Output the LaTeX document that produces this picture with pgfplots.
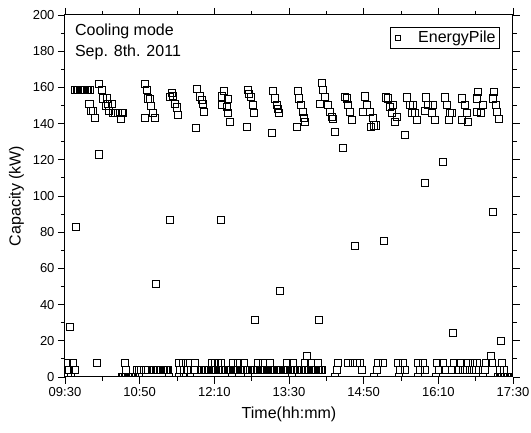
\documentclass[border=0pt]{standalone}
\usepackage{fontspec}
\setmainfont{Liberation Sans}
\usepackage{pgfplots}
\pgfplotsset{compat=1.18}
\begin{document}
\begin{tikzpicture}
\useasboundingbox (-65pt,-56pt) rectangle (466pt,377pt);
\begin{axis}[
 scale only axis, width=448pt, height=362pt,
 xmin=0, xmax=480, ymin=0, ymax=200,
 xtick={0,80,160,240,320,400,480},
 xticklabels={09:30,10:50,12:10,13:30,14:50,16:10,17:30},
 minor xtick={40,120,200,280,360,440},
 ytick={0,20,40,60,80,100,120,140,160,180,200},
 minor ytick={10,30,50,70,90,110,130,150,170,190},
 tick align=outside, major tick length=7pt, minor tick length=4pt,
 tick style={black, line width=0.8pt},
 axis line style={line width=1pt},
 ticklabel style={font=\fontsize{13}{15}\selectfont},
 /pgf/number format/assume math mode=true,
 xlabel={Time(hh:mm)}, ylabel={Capacity (kW)},
 label style={font=\fontsize{16}{19}\selectfont},
 xlabel style={yshift=-3pt},
 ylabel style={yshift=2pt},
 clip marker paths=true,
 legend style={at={(0.971,0.967)}, anchor=north east, draw=black, line width=0.8pt,
   font=\fontsize{16}{19}\selectfont, inner sep=2pt},
 legend image code/.code={\draw[line width=0.7pt, draw=black] (3pt,-2.5pt) rectangle (8pt,2.5pt); \path[draw=none] (0pt,0pt) -- (24pt,0pt);},
 legend cell align=left,
]
\addplot[only marks, mark=square, mark size=3.6pt, mark options={line width=0.7pt, draw=black}] coordinates {
(11,158.5) (12.5,158.5) (14,158.5) (15.5,158.5) (17,158.5) (18.5,158.5) (20,158.5)
(21.5,158.5) (23,158.5) (24.5,158.5) (26,158.5)
(26,151) (28,147) (30,147) (32,143) (36.4,162) (39.6,158.5) (40.7,154) (44,150) (45,154)
(46,151) (47,147) (50.4,151) (51.4,146) (53.6,146) (56.8,146) (60,142.5) (61,146) (62.1,146)
(85.7,162) (87.9,158.5) (88.9,154) (91,153.5) (92.1,150) (94.3,146) (96.4,143) (85.7,143)
(112.5,154.8) (114.6,157) (115.7,155.5) (117.9,151) (120,149) (121.1,145)
(140.4,137.7) (141.4,159) (144.6,155) (146.8,153) (147.9,151) (148.9,146.4)
(168.2,155) (168.2,150.3) (170.4,158) (173.6,149.3) (174.6,153.6) (174.6,145.8) (176.8,141)
(195,138) (196.1,158.6) (197.1,156.5) (199.3,154.7) (201.4,150.3) (202.5,146)
(221.8,134.8) (222.9,158) (225,154) (227.1,150.3) (228.2,148) (229.3,146)
(248.6,138.3) (249.6,158) (250.7,154) (252.9,150.3) (255,146.6) (256,143) (257.1,141)
(273.2,150.8) (275.4,162.6) (276.4,158.6) (278.6,154.9) (281.8,150.3) (283.9,146.6)
(286.1,143.8) (287.1,142.5) (289.3,135.5) (297.9,126.5)
(300,154.9) (302,154) (303.2,150.3) (305.4,146.6) (307.5,142)
(319.3,146.6) (321.4,155) (323.6,150.3) (326.8,146.6) (327.9,138.3) (330,143) (331.1,139) (333.2,139)
(343.9,154.5) (346.1,154) (348.2,149.3) (350.4,146) (351.4,150.3) (353.6,141) (355.7,143.8)
(364.3,134) (366.4,154.5) (369.6,150.3) (371.8,146) (372.9,150.3) (375,146) (377.1,142)
(385.7,147) (386.8,154.5) (388.9,150.3) (393.2,146) (394.3,150.3) (396.4,142)
(407.1,154.5) (409.3,150.3) (411.4,142) (412.5,146) (414.6,146)
(425.4,154) (425.4,142) (428.6,150.3) (430.7,146) (431.8,141)
(441.4,154) (441.4,146.6) (442.5,157.6) (445.7,145.8) (447.9,150.3)
(458.6,154) (459.6,157.6) (461.8,150.3) (462.9,146.6) (465,142.5)
(5.4,27.6) (11.5,83) (36.4,123) (97.5,51.5) (112.5,87) (167.1,87) (203.6,31.5) (230.4,47.5)
(259.3,11.8) (272.1,31.5) (310.7,72.4) (341.8,75) (385.7,107.3) (405,119) (415.7,24.3)
(456.4,11.8) (458.6,91.3) (467.1,20)
(2,8) (8.6,8) (2,4) (4.3,4) (10.7,4) (3.2,0) (6.4,0) (34.3,8) (64.3,8) (65.4,4)
(61,0) (62.5,0) (64,0) (65.5,0) (67,0) (68.5,0) (70,0) (71.5,0) (73,0) (74.5,0)
(77,4) (79,4) (81,4) (85,4) (79,0)
(94,4) (95.5,4) (97,4) (98.5,4) (100,4) (101.5,4) (103,4) (104.5,4) (106,4) (107.5,4) (109,4) (110,4)
(111.5,0)
(122,8) (126,8) (132,8) (139,8) (123,4) (127.5,4) (132,4) (138,4) (122,0) (127.5,0) (134,0)
(147,4) (148.5,4) (150,4) (151.5,4) (153,4) (154.5,4) (156,4) (157.5,4) (159,4) (160.5,4)
(162,4) (163.5,4) (165,4) (166.5,4) (168,4)
(157.5,8) (160.7,8) (164,8) (167,8)
(175,4) (176.5,4) (178,4) (179.5,4) (181,4) (182.5,4) (184,4) (185.5,4) (187,4) (188.5,4) (190,4) (193,4)
(180,8) (185,8) (191.8,8) (179,0) (196,0)
(201,4) (202.5,4) (204,4) (205.5,4) (207,4) (208.5,4) (210,4) (211.5,4) (213,4) (214.5,4)
(216,4) (217.5,4) (219,4) (220.5,4) (222,4) (223,4)
(206.8,8) (212,8) (219.6,8)
(227,4) (228.5,4) (230,4) (231.5,4) (233,4) (234.5,4) (236,4) (237.5,4) (239,4) (240.5,4)
(242,4) (243.5,4) (245,4) (246.5,4) (248,4) (249.5,4)
(237.9,8) (244.3,8) (243,0)
(254,4) (255.5,4) (257,4) (258.5,4) (260,4) (261.5,4) (263,4) (264.5,4) (266,4) (267.5,4)
(269,4) (270.5,4) (272,4) (273.5,4) (275,4)
(257,8) (263.6,8) (271,8)
(292.5,8) (303,8) (291.4,4) (289.3,0) (308.6,8)
(312.9,8) (316,8) (318,4)
(335,8) (340.7,8) (334,4) (331,0)
(356.8,8) (362,8) (358.9,4) (364.3,4) (357.9,0)
(378.2,8) (383.6,8) (380.4,4) (385.7,4) (378,0)
(398.6,8) (405,8) (400.7,4) (407.1,4) (397.5,0)
(416.8,8) (423.2,8) (414.6,4) (421,4) (426.4,4)
(431.8,8) (437.1,8) (441.4,8) (430.7,4) (436,4) (440.4,4)
(451,8) (457.5,8) (450,4) (447.9,0)
(468.2,8) (466,4) (470.4,4)
(464,0) (465.5,0) (467,0) (468.5,0) (470,0) (471.5,0) (473,0) (474.5,0)
};
\addlegendentry{EnergyPile}
\node[anchor=north west, align=left, font=\fontsize{16}{21}\selectfont, inner sep=0pt]
  at (rel axis cs:0.022,0.975) {Cooling mode\\Sep. 8th. 2011};
\end{axis}
\end{tikzpicture}
\end{document}
